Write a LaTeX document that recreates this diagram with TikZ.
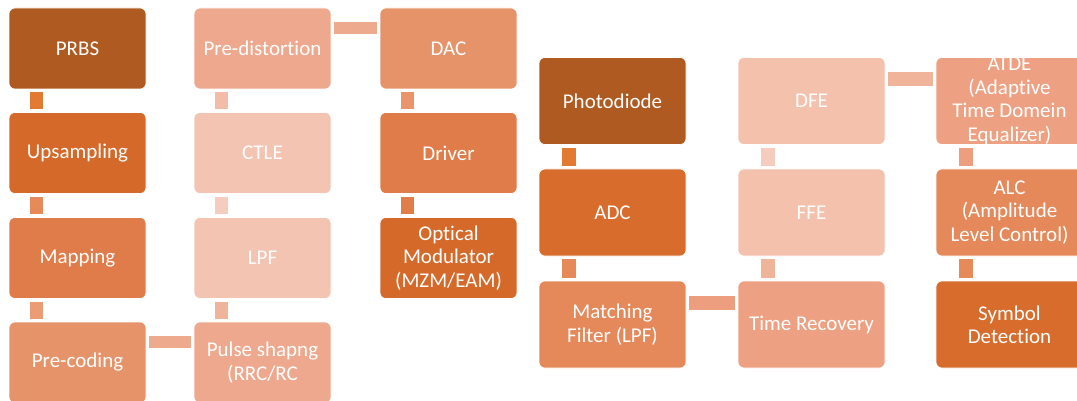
\documentclass[tikz,border=0pt]{standalone}
\usepackage{fontspec}
\setmainfont{Carlito}[Ligatures=NoCommon]
\usepackage{xcolor}
\usepackage{tikz}
\usetikzlibrary{positioning}

% box fills
\definecolor{fDark}{HTML}{AE5A21}
\definecolor{fOrA}{HTML}{D4692A}
\definecolor{fOrB}{HTML}{D86C2D}
\definecolor{fMidA}{HTML}{E07C4A}
\definecolor{fMidB}{HTML}{E5885A}
\definecolor{fLtA}{HTML}{E6936A}
\definecolor{fLtB}{HTML}{EEA88D}
\definecolor{fLtC}{HTML}{EDA182}
\definecolor{fPaleA}{HTML}{F3C4B2}
\definecolor{fPaleB}{HTML}{F4C1AD}
% connector fills
\definecolor{kA}{HTML}{E37A31}
\definecolor{kB}{HTML}{E58A58}
\definecolor{kC}{HTML}{EB9C74}
\definecolor{kD}{HTML}{EEAA8C}
\definecolor{kE}{HTML}{F0B49B}
\definecolor{kF}{HTML}{F5CDBE}
\definecolor{kG}{HTML}{F2BCA8}
\definecolor{kH}{HTML}{E9946A}
\definecolor{kI}{HTML}{E07D48}
\definecolor{kJ}{HTML}{EC9E7E}

\begin{document}
\begin{tikzpicture}[
  x=1pt, y=-1pt,
  blk/.style={draw=white, line width=0.6pt, rounded corners=6pt, align=center,
              text=white, inner sep=0pt, font=\fontsize{21}{23.4}\selectfont},
  blkL/.style={blk, minimum width=137pt, minimum height=81pt},
  blkR/.style={blk, minimum width=147pt, minimum height=87pt},
  txt/.style={align=center, text=white, inner sep=0pt, font=\fontsize{21}{23.4}\selectfont},
  vbarL/.style={line width=13pt, shorten <=3pt, shorten >=3pt},
  hbarL/.style={line width=12pt, shorten <=2.5pt, shorten >=2.5pt},
  vbarR/.style={line width=14pt, shorten <=3pt, shorten >=3pt},
  hbarR/.style={line width=14pt, shorten <=2.5pt, shorten >=2.5pt},
]
\useasboundingbox (0,0) rectangle (1077,401);
\clip (0,0) rectangle (1077,401);

\def\rA{48.5}  % transmitter rows
\def\rB{153}
\def\rC{258}
\def\rD{362.5}
\def\cA{77.5}  % transmitter columns
\def\cB{262.5}
\def\cC{448.5}
\def\rE{101}   % receiver rows
\def\rF{212.5}
\def\rG{324.5}
\def\cD{612.5} % receiver columns
\def\cE{811.5}
\def\cF{1009.5}

% ============ transmitter ===================================================
\node[blkL, fill=fDark]  (prbs)  at (\cA,\rA) {PRBS};
\node[blkL, fill=fOrA]   (ups)   at (\cA,\rB) {Upsampling};
\node[blkL, fill=fMidA]  (map)   at (\cA,\rC) {Mapping};
\node[blkL, fill=fLtA]   (prec)  at (\cA,\rD) {Pre-coding};

\node[blkL, fill=fLtB]   (pred)  at (\cB,\rA) {Pre-distortion};
\node[blkL, fill=fPaleA] (ctle)  at (\cB,\rB) {CTLE};
\node[blkL, fill=fPaleA] (lpf)   at (\cB,\rC) {LPF};
\node[blkL, fill=fLtB]   (pulse) at (\cB,\rD) {Pulse shapng\\(RRC/RC};

\node[blkL, fill=fLtA]   (dac)   at (\cC,\rA) {DAC};
\node[blkL, fill=fMidA]  (drv)   at (\cC,\rB) {Driver};
\node[blkL, fill=fOrA]   (omod)  at (\cC,\rC) {Optical\\Modulator\\(MZM/EAM)};

% ============ receiver ======================================================
\node[blkR, fill=fDark]  (pd)    at (\cD,\rE) {Photodiode};
\node[blkR, fill=fOrB]   (adc)   at (\cD,\rF) {ADC};
\node[blkR, fill=fMidB]  (mf)    at (\cD,\rG) {Matching\\Filter (LPF)};

\node[blkR, fill=fLtC]   (tr)    at (\cE,\rG) {Time Recovery};
\node[blkR, fill=fPaleB] (ffe)   at (\cE,\rF) {FFE};
\node[blkR, fill=fPaleB] (dfe)   at (\cE,\rE) {DFE};

\node[blkR, fill=fLtC, label={[txt]center:{ATDE\\(Adaptive\\Time Domein\\Equalizer)}}]
                         (atde)  at (\cF,\rE) {};
\node[blkR, fill=fMidB]  (alc)   at (\cF,\rF) {ALC\\(Amplitude\\Level Control)};
\node[blkR, fill=fOrB]   (sym)   at (\cF,\rG) {Symbol\\Detection};

% ============ transmitter links =============================================
\draw[vbarL, draw=kA] ([xshift=-41pt]prbs.south)  -- ([xshift=-41pt]ups.north);
\draw[vbarL, draw=kB] ([xshift=-41pt]ups.south)   -- ([xshift=-41pt]map.north);
\draw[vbarL, draw=kC] ([xshift=-41pt]map.south)   -- ([xshift=-41pt]prec.north);
\draw[hbarL, draw=kD] ([yshift=20.5pt]prec.east)  -- ([yshift=20.5pt]pulse.west);
\draw[vbarL, draw=kE] ([xshift=-41pt]pulse.north) -- ([xshift=-41pt]lpf.south);
\draw[vbarL, draw=kF] ([xshift=-41pt]lpf.north)   -- ([xshift=-41pt]ctle.south);
\draw[vbarL, draw=kG] ([xshift=-41pt]ctle.north)  -- ([xshift=-41pt]pred.south);
\draw[hbarL, draw=kD] ([yshift=20.5pt]pred.east)  -- ([yshift=20.5pt]dac.west);
\draw[vbarL, draw=kH] ([xshift=-41pt]dac.south)   -- ([xshift=-41pt]drv.north);
\draw[vbarL, draw=kI] ([xshift=-41pt]drv.south)   -- ([xshift=-41pt]omod.north);

% ============ receiver links ================================================
\draw[vbarR, draw=kA] ([xshift=-43.5pt]pd.south)  -- ([xshift=-43.5pt]adc.north);
\draw[vbarR, draw=kB] ([xshift=-43.5pt]adc.south) -- ([xshift=-43.5pt]mf.north);
\draw[hbarR, draw=kJ] ([yshift=22pt]mf.east)      -- ([yshift=22pt]tr.west);
\draw[vbarR, draw=kE] ([xshift=-43.5pt]tr.north)  -- ([xshift=-43.5pt]ffe.south);
\draw[vbarR, draw=kF] ([xshift=-43.5pt]ffe.north) -- ([xshift=-43.5pt]dfe.south);
\draw[hbarR, draw=kE] ([yshift=22pt]dfe.east)     -- ([yshift=22pt]atde.west);
\draw[vbarR, draw=kJ] ([xshift=-43.5pt]atde.south) -- ([xshift=-43.5pt]alc.north);
\draw[vbarR, draw=kB] ([xshift=-43.5pt]alc.south) -- ([xshift=-43.5pt]sym.north);

\end{tikzpicture}
\end{document}
